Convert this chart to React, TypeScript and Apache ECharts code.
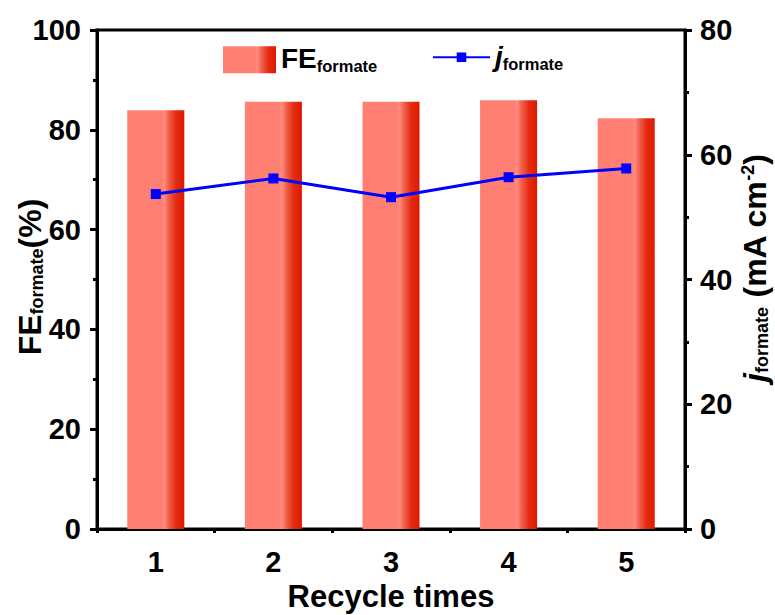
import React, { useEffect, useRef } from "react";
import * as echarts from "echarts";

const categories = ["1", "2", "3", "4", "5"];
const feValues = [83.9, 85.6, 85.6, 85.9, 82.3];
const jValues = [53.7, 56.2, 53.2, 56.4, 57.8];
const leftTicks = { min: 0, max: 100, interval: 20 };
const rightTicks = { min: 0, max: 80, interval: 20 };

const FONT = "'Liberation Sans', Arial, sans-serif";

export default function App() {
  const ref = useRef<HTMLDivElement>(null);
  useEffect(() => {
    if (!ref.current) return;
    const chart = echarts.init(ref.current, null, { renderer: "svg" });
    const barColor = new echarts.graphic.LinearGradient(0, 0, 1, 0, [
      { offset: 0, color: "#FF7F72" },
      { offset: 0.6, color: "#FF7F72" },
      { offset: 0.65, color: "#FF8C80" },
      { offset: 0.72, color: "#F2634F" },
      { offset: 0.86, color: "#E42A10" },
      { offset: 1, color: "#E01A00" },
    ]);
    const richBase = {
      m: { fontFamily: FONT, fontWeight: "bold", fontSize: 28, color: "#000", lineHeight: 30, verticalAlign: "top" },
      mi: { fontFamily: FONT, fontWeight: "bold", fontStyle: "italic", fontSize: 28, color: "#000", lineHeight: 30, verticalAlign: "top" },
      s: { fontFamily: FONT, fontWeight: "bold", fontSize: 16.5, color: "#000", lineHeight: 16.5, padding: [17, 0, 0, 0], verticalAlign: "bottom" },
    };
    const richTitle = {
      m: { fontFamily: FONT, fontWeight: "bold", fontSize: 32, color: "#000", lineHeight: 32, verticalAlign: "top" },
      mi: { fontFamily: FONT, fontWeight: "bold", fontStyle: "italic", fontSize: 32, color: "#000", lineHeight: 32, verticalAlign: "top" },
      s: { fontFamily: FONT, fontWeight: "bold", fontSize: 18, color: "#000", lineHeight: 18, padding: [18, 0, 0, 0], verticalAlign: "bottom" },
      sup: { fontFamily: FONT, fontWeight: "bold", fontSize: 18, color: "#000", lineHeight: 18, verticalAlign: "top" },
    };
    const axisLabelStyle = { fontFamily: FONT, fontWeight: "bold", fontSize: 29, color: "#000" };
    chart.setOption({
      animation: false,
      grid: { left: 97, right: 90, top: 30, bottom: 86, show: true, borderColor: "#000", borderWidth: 3, backgroundColor: "transparent" },
      legend: [
        {
          data: ["FE"], left: 223, top: 40.75, padding: 0, itemWidth: 53, itemHeight: 27, icon: "rect",
          formatter: () => "{m|FE}{s|formate}",
          textStyle: { rich: richBase },
        },
        {
          data: ["j"], left: 432, top: 38.25, padding: 0, itemWidth: 57, itemHeight: 12,
          formatter: () => "{mi|j}{s|formate}",
          textStyle: { rich: richBase },
        },
      ],
      xAxis: [
        {
          type: "category", data: categories, boundaryGap: true,
          axisLine: { lineStyle: { color: "#000", width: 3 } },
          axisTick: { alignWithLabel: true, length: 7, lineStyle: { width: 3, color: "#000" } },
          axisLabel: { ...axisLabelStyle, margin: 18 },
          splitLine: { show: false },
        },
        {
          type: "category", data: categories, boundaryGap: true, position: "bottom",
          axisLine: { show: false },
          axisTick: { show: true, length: 4, lineStyle: { width: 3, color: "#000" } },
          axisLabel: { show: false },
          splitLine: { show: false },
        },
      ],
      yAxis: [
        {
          type: "value", ...leftTicks, position: "left",
          axisLine: { show: true, lineStyle: { color: "#000", width: 3 } },
          axisTick: { show: true, length: 7, lineStyle: { width: 3, color: "#000" } },
          minorTick: { show: true, splitNumber: 2, length: 4, lineStyle: { width: 3, color: "#000" } },
          axisLabel: { ...axisLabelStyle, margin: 16 },
          splitLine: { show: false },
        },
        {
          type: "value", ...rightTicks, position: "right",
          axisLine: { show: true, lineStyle: { color: "#000", width: 3 } },
          axisTick: { show: true, length: 7, lineStyle: { width: 3, color: "#000" } },
          minorTick: { show: true, splitNumber: 2, length: 4, lineStyle: { width: 3, color: "#000" } },
          axisLabel: { ...axisLabelStyle, margin: 15 },
          splitLine: { show: false },
        },
      ],
      series: [
        {
          name: "FE", type: "bar", data: feValues, xAxisIndex: 0, yAxisIndex: 0,
          barWidth: "48.5%", itemStyle: { color: barColor },
        },
        {
          name: "j", type: "line", data: jValues, xAxisIndex: 0, yAxisIndex: 1,
          symbol: "rect", symbolSize: 10,
          lineStyle: { color: "#0000FF", width: 3 },
          itemStyle: { color: "#0000FF" },
        },
      ],
      graphic: [
        {
          type: "text", x: 30, y: 277, rotation: Math.PI / 2,
          style: { text: "{m|FE}{s|formate}{m|(%)}", rich: richTitle, align: "center", verticalAlign: "middle" },
        },
        {
          type: "text", x: 755, y: 268, rotation: Math.PI / 2,
          style: { text: "{mi|j}{s|formate}{m| (mA cm}{sup|-2}{m|)}", rich: richTitle, align: "center", verticalAlign: "middle" },
        },
        {
          type: "text", x: 391, y: 596,
          style: { text: "Recycle times", fontFamily: FONT, fontWeight: "bold", fontSize: 31, fill: "#000", align: "center", verticalAlign: "middle" },
        },
      ],
    });
    return () => chart.dispose();
  }, []);
  return <div ref={ref} style={{ width: 775, height: 615, position: "absolute", left: 0, top: 0 }} />;
}
